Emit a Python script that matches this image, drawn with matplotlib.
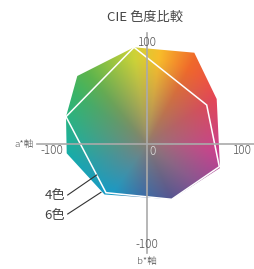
import numpy as np
import matplotlib
matplotlib.use("Agg")
import matplotlib.pyplot as plt
from matplotlib.patches import Polygon
from matplotlib.colors import to_rgb

plt.rcParams['font.family'] = ['Noto Sans CJK JP', 'DejaVu Sans']

# Gamut polygons in a*/b* units
outer_a = [-12.7, 47.6, 70.0, 73.3, 25.0, -42.2, -80.0, -80.7, -69.4]
outer_b = [96.7, 91.3, 45.0, -24.0, -55.3, -50.5, -9.3, 27.3, 68.0]
inner_a = [-12.7, 60.0, 72.6, 25.0, -40.7, -80.7]
inner_b = [96.7, 39.0, -22.7, -55.3, -48.7, 27.3]

# hue samples (angle deg -> color) for the colour field
hue_angles = [-161, -125, -95, -66, -38, -5, 34, 61, 82, 98, 130, 145, 177]
hue_colors = ['#10a8b8', '#00a0d8', '#1e68bc', '#4a4c98', '#8a4c98', '#d03c90',
              '#e04858', '#e86a30', '#f0b830', '#c8cc3c', '#60b050', '#40b068', '#20b098']
center_color = '#8a7e72'

W, H = 254, 269
cx, cy = 146.7, 144.0
fig = plt.figure(figsize=(W / 100, H / 100), dpi=100)
ax = fig.add_axes([0, 0, 1, 1])
ax.set_xlim(-cx, W - cx)
ax.set_ylim(-(H - cy), cy)
ax.axis('off')

# colour field
xs = np.linspace(-90, 85, 350)
ys = np.linspace(-65, 105, 340)
X, Y = np.meshgrid(xs, ys)
R = np.hypot(X, Y)
T = np.degrees(np.arctan2(Y, X))
angs = np.array(hue_angles + [hue_angles[0] + 360])
cols = np.array([to_rgb(c) for c in hue_colors + [hue_colors[0]]])
Tm = np.where(T < angs[0], T + 360, T)
hue_img = np.stack([np.interp(Tm, angs, cols[:, k]) for k in range(3)], axis=-1)
f = np.clip(R / 78.0, 0, 1.1) ** 0.8
c0 = np.array(to_rgb(center_color))
img = c0 + (hue_img - c0) * f[..., None]
img = np.clip(img, 0, 1)
im = ax.imshow(img, extent=[xs[0], xs[-1], ys[0], ys[-1]], origin='lower',
               interpolation='bilinear', zorder=1)
outer = Polygon(np.column_stack([outer_a, outer_b]), closed=True,
                facecolor='none', edgecolor='none')
ax.add_patch(outer)
im.set_clip_path(outer)

inner = Polygon(np.column_stack([inner_a, inner_b]), closed=True,
                facecolor='none', edgecolor='white', lw=1.1, zorder=3)
ax.add_patch(inner)

# axes lines
ax.plot([-110, 110], [0, 0], color='#aaaaaa', lw=1.2, zorder=4)
ax.plot([0, 0], [-109, 111], color='#aaaaaa', lw=1.2, zorder=4)

tc = '#555555'
fw = 'light'
ax.text(1, 101, '100', ha='center', va='center', fontsize=8.5, color=tc, zorder=5, fontweight=fw)
ax.text(-95, -6, '-100', ha='center', va='center', fontsize=8.5, color=tc, zorder=5, fontweight=fw)
ax.text(96, -6, '100', ha='center', va='center', fontsize=8.5, color=tc, zorder=5, fontweight=fw)
ax.text(6, -7.5, '0', ha='center', va='center', fontsize=8.5, color='#dddddd', zorder=5, fontweight=fw)
ax.text(0, -101, '-100', ha='center', va='center', fontsize=8.5, color=tc, zorder=5, fontweight=fw)
ax.text(0, -117, 'b*軸', ha='center', va='center', fontsize=7, color=tc, zorder=5, fontweight=fw)
ax.text(-113, 0, 'a*軸', ha='right', va='center', fontsize=7, color=tc, zorder=5, fontweight=fw)
ax.text(-1.7, 127, 'CIE 色度比較', ha='center', va='center', fontsize=9.5, color='#444444')

ax.text(-91.7, -52, '4色', ha='center', va='center', fontsize=9.5, color='#444444')
ax.text(-91.7, -71, '6色', ha='center', va='center', fontsize=9.5, color='#444444')
ax.plot([-79, -50], [-51, -31], color='#333333', lw=0.8, zorder=5)
ax.plot([-79, -45.7], [-70, -48.3], color='#333333', lw=0.8, zorder=5)

fig.savefig('out.png', dpi=100)
